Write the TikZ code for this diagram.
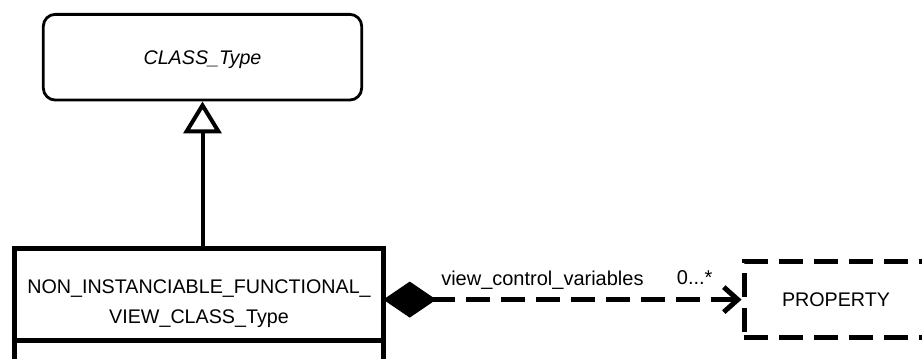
\documentclass[tikz,border=0pt]{standalone}
\usepackage{fontspec}
\setmainfont{Liberation Sans}
\usetikzlibrary{arrows.meta}
\tikzset{
  txt/.style={font=\fontsize{19.7bp}{30bp}\selectfont},
  lbl/.style={font=\fontsize{20bp}{24bp}\selectfont, inner sep=0pt},
  abstractbox/.style={draw, line width=2.8bp, rounded corners=12bp, txt},
  classbox/.style={draw, line width=5bp, outer sep=0pt},
  dashedbox/.style={draw, line width=5bp, dash pattern=on 24bp off 11bp, txt},
  genline/.style={line width=4bp, -{Triangle[open, length=32bp, width=38bp, line width=4bp]}},
  assocline/.style={line width=5bp, dash pattern=on 24bp off 11bp,
    {Diamond[length=53bp, width=36bp, line width=1bp]}-{Straight Barb[length=14bp, width=25bp, line width=5bp]}}
}
\begin{document}
\begin{tikzpicture}[x=1bp, y=-1bp]
  \path[use as bounding box, clip] (0,0) rectangle (922,358);
  \fill[white] (0,0) rectangle (922,358);
  % abstract superclass
  \node[abstractbox, minimum width=318.4bp, minimum height=85.7bp, text depth=0pt]
    (cls) at (202.5,57.2) {\itshape CLASS\_Type};
  % class name compartment
  \node[classbox, minimum width=368.5bp, minimum height=92bp] (nif) at (199,294) {};
  \node[txt, align=center, inner sep=0pt] (niftext) at (199,304) {NON\_INSTANCIABLE\_FUNCTIONAL\_\\VIEW\_CLASS\_Type};
  % attribute compartment (cut by the page edge)
  \node[classbox, minimum width=368.5bp, minimum height=60bp, anchor=north] (attr) at (nif.south) {};
  % property (dashed)
  \node[dashedbox, minimum width=184bp, minimum height=75.8bp] (prop) at (836,299.6) {PROPERTY};
  % generalization
  \draw[genline] (cls.south |- nif.north) -- (cls.south);
  % composition association
  \draw[assocline] (nif.east |- prop.west) --
    node[lbl, at start, anchor=base west, xshift=55.5bp, yshift=14bp] (rolelbl) {view\_control\_variables}
    node[lbl, at end, anchor=base east, xshift=-26.5bp, yshift=15bp] (multlbl) {0...*}
    (prop.west);
\end{tikzpicture}
\end{document}
